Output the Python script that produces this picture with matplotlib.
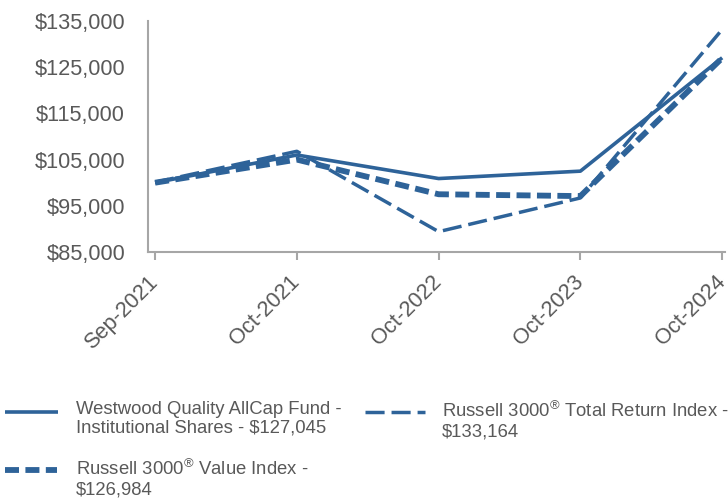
import matplotlib
matplotlib.use("Agg")
import matplotlib.pyplot as plt
from matplotlib.lines import Line2D
from matplotlib.ticker import FuncFormatter

dates = ["Sep-2021", "Oct-2021", "Oct-2022", "Oct-2023", "Oct-2024"]
fund = [100000, 106000, 100900, 102500, 127045]
total_return = [100100, 106800, 89400, 96700, 133164]
value_index = [100000, 105000, 97500, 97100, 126984]

fund_label = "Westwood Quality AllCap Fund -\nInstitutional Shares - $127,045"
total_label = "Russell 3000$^{®}$ Total Return Index -\n$133,164"
value_label = "Russell 3000$^{®}$ Value Index -\n$126,984"

blue = "#2E6399"
grey_text = "#595959"
spine_grey = "#A6A6A6"

plt.rcParams["font.family"] = ["Liberation Sans", "DejaVu Sans"]
plt.rcParams["mathtext.fontset"] = "custom"
plt.rcParams["mathtext.rm"] = "Liberation Sans"

fig = plt.figure(figsize=(7.28, 4.98), dpi=100)
ax = fig.add_axes([148 / 728, 1 - 252 / 498, 577 / 728, 231 / 498])

x = list(range(len(dates)))

fund_style = dict(color=blue, lw=2.6, solid_capstyle="butt")
total_style = dict(color=blue, lw=2.5, dashes=(5.5, 2.0), dash_capstyle="butt")
value_style = dict(color=blue, lw=4.2, dashes=(2.4, 1.1), dash_capstyle="butt")

ax.plot(x, value_index, **value_style)
ax.plot(x, total_return, **total_style)
ax.plot(x, fund, **fund_style)

ax.set_ylim(85000, 135000)
ax.set_xlim(-0.05, 4.02)
ax.set_yticks(range(85000, 135001, 10000))
ax.yaxis.set_major_formatter(FuncFormatter(lambda v, p: f"${v:,.0f}"))
ax.set_xticks(x)
ax.set_xticklabels(dates, rotation=45, ha="right", va="center",
                   rotation_mode="anchor")

for s in ["top", "right"]:
    ax.spines[s].set_visible(False)
for s in ["left", "bottom"]:
    ax.spines[s].set_color(spine_grey)
    ax.spines[s].set_linewidth(1.5)

ax.tick_params(axis="y", length=0, pad=16.5, labelsize=15.7, labelcolor=grey_text)
ax.tick_params(axis="x", length=6, width=1.5, color=spine_grey, pad=13,
               labelsize=15.7, labelcolor=grey_text, direction="out")
for ln in ax.lines:
    ln.set_clip_on(False)


def legend_entry(x0, x1, xt, y, style, label):
    fy = 1 - y / 498
    fig.add_artist(Line2D([x0 / 728, x1 / 728], [fy, fy], transform=fig.transFigure, **style))
    fig.text(xt / 728, 1 - (y - 11) / 498, label, ha="left", va="top",
             fontsize=13.3, color=grey_text, linespacing=1.15)


legend_entry(5, 58, 76, 412, fund_style, fund_label)
legend_entry(365, 425, 442, 412, total_style, total_label)
legend_entry(5, 57, 76, 470, value_style, value_label)

fig.savefig("out.png", dpi=100)
